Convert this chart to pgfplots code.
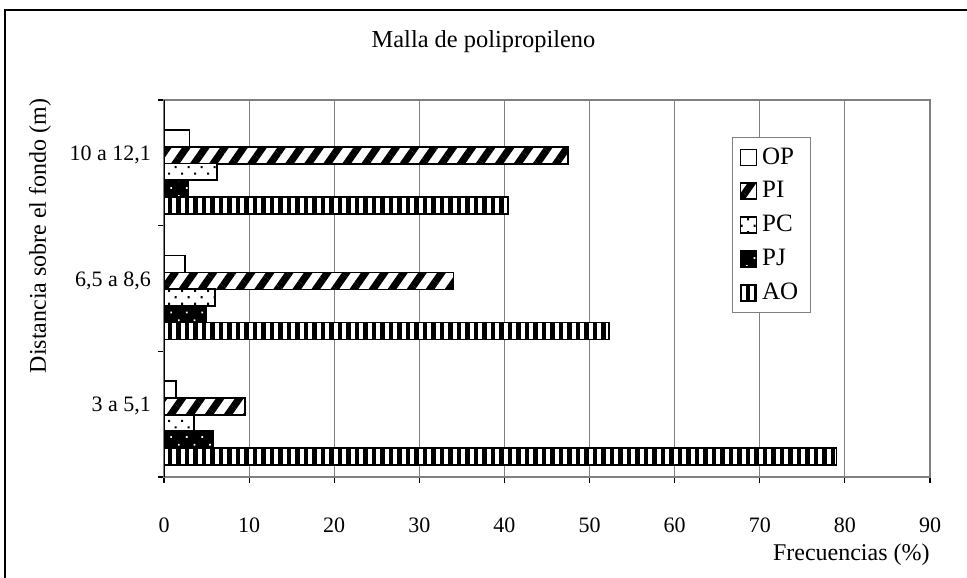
\documentclass[border=0pt]{standalone}
\usepackage{fontspec}
\setmainfont{Liberation Serif}
\usepackage{pgfplots}
\pgfplotsset{compat=1.18}
\usetikzlibrary{patterns.meta}

\definecolor{gridgray}{RGB}{128,128,128}

\begin{document}
\begin{tikzpicture}
\useasboundingbox (0,0) rectangle (483.5pt,-288.5pt);
% outer chart frame (only top and left edges show)
\draw[line width=0.8pt] (2.5pt,-290pt) -- (2.5pt,-5pt) -- (485pt,-5pt);
\node[font=\fontsize{12.2}{14}\selectfont] at (241.75pt,-21pt) {Malla de polipropileno};
\node[font=\fontsize{12}{14}\selectfont, rotate=90] at (20pt,-118pt) {Distancia sobre el fondo (m)};
\node[font=\fontsize{12}{14}\selectfont, anchor=east, inner sep=0pt] at (465pt,-277.5pt) {Frecuencias (\%)};

\begin{axis}[
  at={(82pt,-238.5pt)}, anchor=south west,
  scale only axis, width=383pt, height=188.5pt,
  xbar, bar width=8.4pt,
  legend image code/.code={\draw[#1] (0pt,-4pt) rectangle (8pt,4pt);},
  xmin=0, xmax=90, xtick={0,10,...,90},
  ymin=-0.5, ymax=2.5,
  ytick={-0.5,0.5,1.5,2.5}, yticklabels={},
  extra y ticks={0.064,1.064,2.064},
  extra y tick labels={{3 a 5,1},{6,5 a 8,6},{10 a 12,1}},
  extra y tick style={major tick length=0pt},
  xmajorgrids, grid style={gridgray, line width=0.6pt},
  axis line style={gridgray, line width=0.8pt},
  tick style={black, line width=0.6pt},
  tick align=outside, major tick length=3pt,
  xtick pos=bottom, ytick pos=left,
  tick label style={font=\fontsize{11}{13}\selectfont},
  /pgf/number format/assume math mode=true,
  xticklabel shift=14pt,
  yticklabel shift=3pt,
  legend style={at={(rel axis cs:0.7415,0.9019)}, anchor=north west,
    draw=gridgray, line width=0.6pt, font=\fontsize{12.5}{14}\selectfont,
    row sep=3.2pt, inner xsep=3.5pt, inner ysep=3pt,
    nodes={inner xsep=2.5pt}},
  legend cell align=left,
]
\addplot[bar shift=12.25pt, draw=black, line width=0.8pt, fill=white]
  coordinates {(1.4,0) (2.5,1) (3.0,2)};
\addlegendentry{OP}
\addplot[bar shift=3.75pt, draw=black, line width=0.8pt, fill=white,
  postaction={pattern={Lines[angle=55,distance=7.8pt,line width=3.6pt]}, pattern color=black}]
  coordinates {(9.5,0) (34.0,1) (47.5,2)};
\addlegendentry{PI}
\addplot[bar shift=-4.5pt, draw=black, line width=0.8pt, fill=white,
  postaction={pattern={Dots[distance=4.6pt,angle=45,radius=0.75pt]}, pattern color=black}]
  coordinates {(3.5,0) (6.0,1) (6.2,2)};
\addlegendentry{PC}
\addplot[bar shift=-12.75pt, draw=black, line width=0.8pt, fill=black,
  postaction={pattern={Dots[distance=5.5pt,angle=45,radius=0.6pt]}, pattern color=white}]
  coordinates {(5.8,0) (5.0,1) (2.9,2)};
\addlegendentry{PJ}
\addplot[bar shift=-21.25pt, draw=black, line width=0.8pt, fill=white,
  postaction={pattern={Lines[angle=90,distance=4.25pt,line width=2.4pt]}, pattern color=black}]
  coordinates {(79.0,0) (52.3,1) (40.4,2)};
\addlegendentry{AO}
\draw[black, line width=0.8pt] (rel axis cs:0,0) -- (rel axis cs:0,1);
\end{axis}
\end{tikzpicture}
\end{document}
